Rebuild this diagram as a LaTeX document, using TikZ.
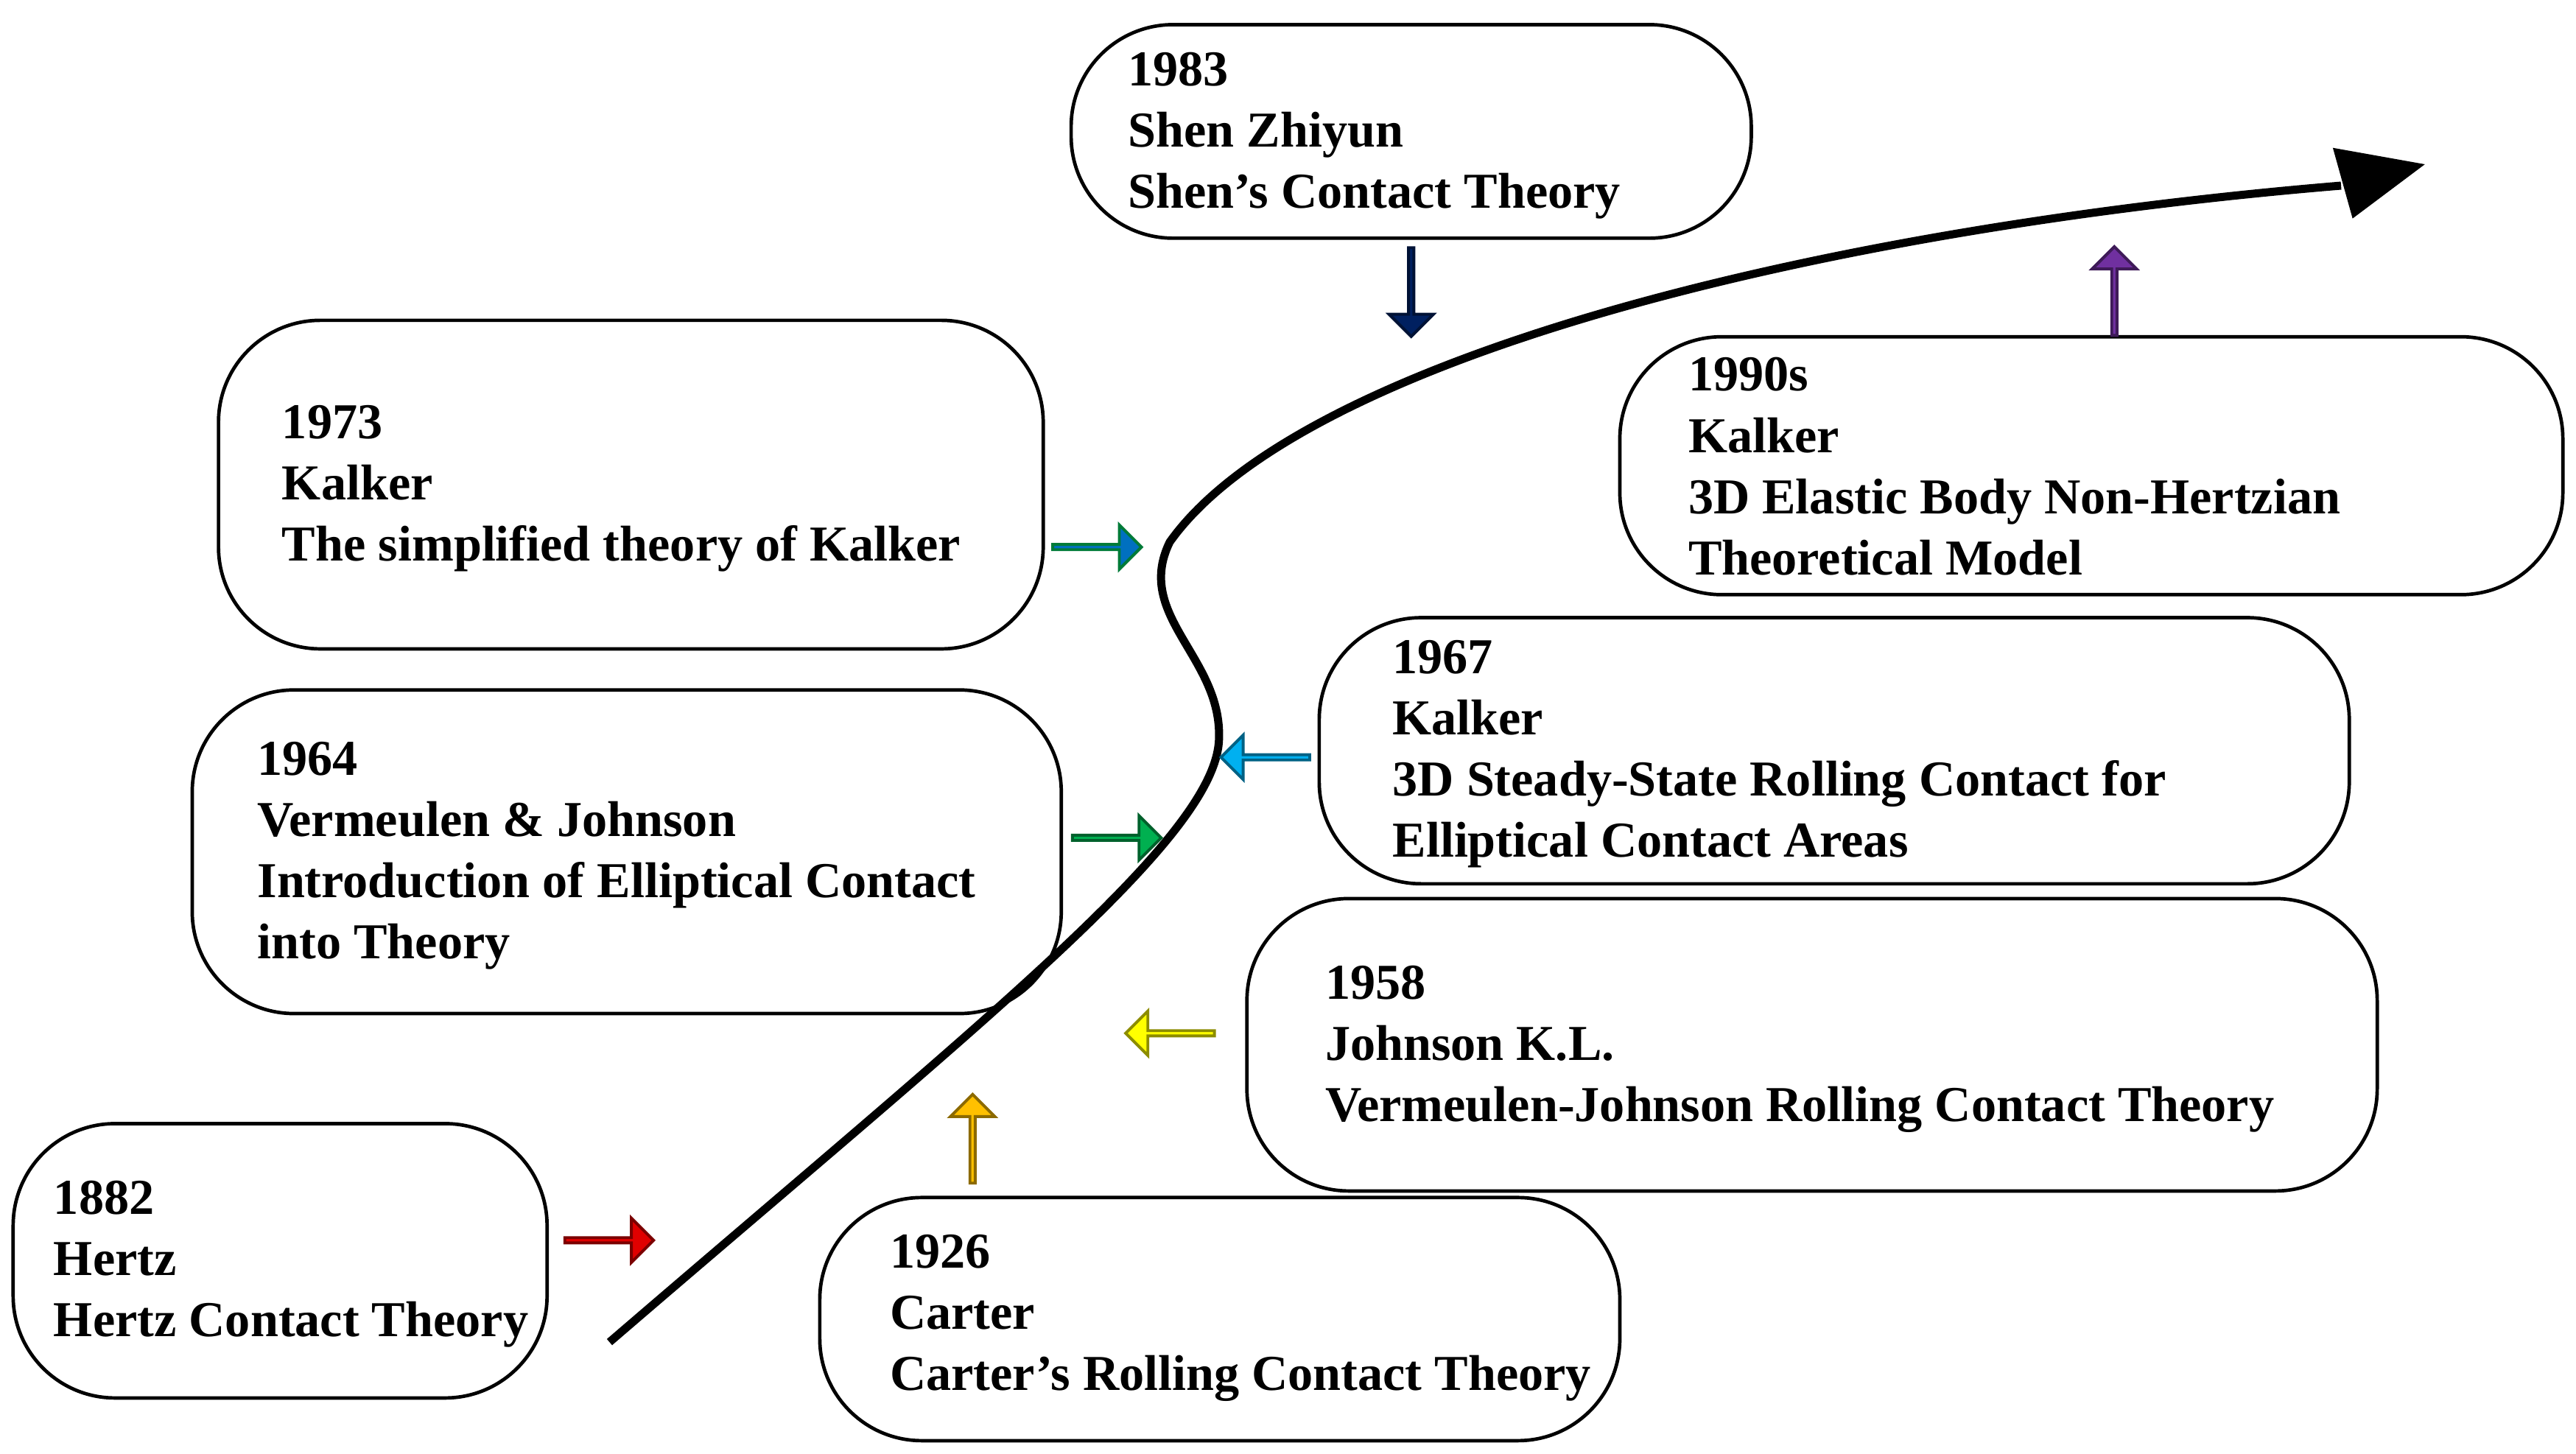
\documentclass[tikz,border=0pt]{standalone}
\usepackage{fontspec}
\setmainfont{Liberation Serif}
\usetikzlibrary{shapes.arrows}
\begin{document}
\begin{tikzpicture}[x=0.01cm,y=-0.01cm,
 box/.style={draw,line width=0.6pt,rounded corners=0.62cm},
 txt/.style={anchor=north west,align=left,inner sep=0pt,font=\fontsize{8.7}{10.6}\selectfont\bfseries},
 barr/.style={single arrow,draw=#1!55!black,fill=#1,line width=0.5pt,inner sep=0pt,minimum height=0.54cm,minimum width=0.27cm,single arrow head extend=0.065cm}]
\useasboundingbox (0,0) rectangle (1568,885);
\definecolor{cred}{HTML}{E00000}\definecolor{corange}{HTML}{FFC000}
\definecolor{cyel}{HTML}{FFFF00}\definecolor{cgreen}{HTML}{00B050}
\definecolor{clblue}{HTML}{00B0F0}\definecolor{cblue}{HTML}{0070C0}
\definecolor{cnavy}{HTML}{002060}\definecolor{cpurple}{HTML}{7030A0}
\draw[box] (652,15) rectangle (1066,145) coordinate (b1);
\draw[box] (133,195) rectangle (635,395) coordinate (b2);
\draw[box] (986,205) rectangle (1560,362) coordinate (b3);
\draw[box] (803,376) rectangle (1430,538) coordinate (b4);
\draw[box] (117,420) rectangle (646,617) coordinate (b5);
\draw[box] (759,547) rectangle (1447,725) coordinate (b6);
\draw[box] (8,684) rectangle (333,851) coordinate (b7);
\draw[box] (499,729) rectangle (986,877) coordinate (b8);
\node[txt] (t1) at (686,31) {1983\\Shen Zhiyun\\Shen's Contact Theory};
\node[txt] (t2) at (171,246) {1973\\Kalker\\The simplified theory of Kalker};
\node[txt] (t3) at (1027,217) {1990s\\Kalker\\3D Elastic Body Non-Hertzian\\Theoretical Model};
\node[txt] (t4) at (847,389) {1967\\Kalker\\3D Steady-State Rolling Contact for\\Elliptical Contact Areas};
\node[txt] (t5) at (156,451) {1964\\Vermeulen \& Johnson\\Introduction of Elliptical Contact\\into Theory};
\node[txt] (t6) at (806,587) {1958\\Johnson K.L.\\Vermeulen-Johnson Rolling Contact Theory};
\node[txt] (t7) at (32,718) {1882\\Hertz\\Hertz Contact Theory};
\node[txt] (t8) at (541,751) {1926\\Carter\\Carter’s Rolling Contact Theory};
\coordinate (s) at (371,817);
\coordinate (e) at (1425,113);
\draw[line width=1.4pt] (s) .. controls (600,620) and (740,510) .. (742,450)
  .. controls (744,400) and (690,375) .. (712,330)
  .. controls (790,220) and (1100,140) .. (e);
\fill (1420,90) -- (1476,100) -- (1432,133) -- cycle;
\node[barr=cred] (a1) at (370,755) {};
\node[barr=corange,rotate=90] (a2) at (592,694) {};
\node[barr=cyel,rotate=180] (a3) at (713,629) {};
\node[barr=cgreen] (a4) at (679,510) {};
\node[barr=clblue,rotate=180] (a5) at (771,461) {};
\node[barr=cblue,draw=cgreen!70!black] (a6) at (667,333) {};
\node[barr=cnavy,rotate=-90] (a7) at (859,177) {};
\node[barr=cpurple,rotate=90] (a8) at (1287,178) {};
\end{tikzpicture}
\end{document}
